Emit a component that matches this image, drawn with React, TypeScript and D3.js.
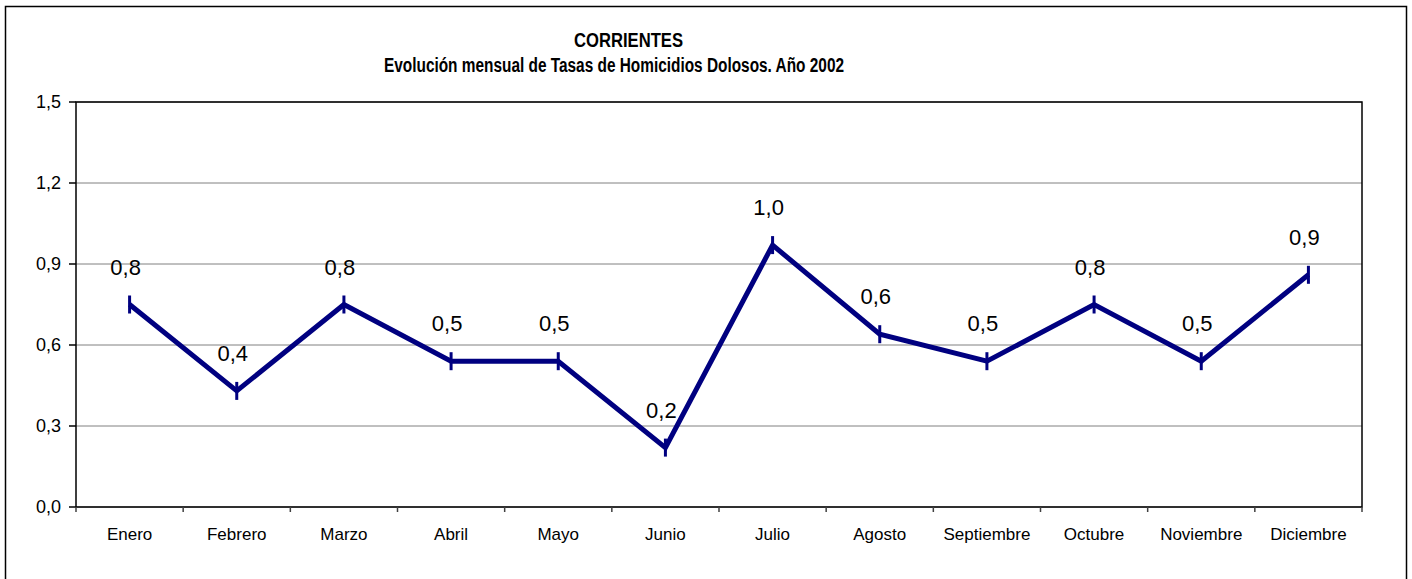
import React, { useEffect, useRef } from 'react';
import * as d3 from 'd3';

const months = ['Enero', 'Febrero', 'Marzo', 'Abril', 'Mayo', 'Junio', 'Julio', 'Agosto', 'Septiembre', 'Octubre', 'Noviembre', 'Diciembre'];
const rates = [0.75, 0.43, 0.75, 0.54, 0.54, 0.22, 0.97, 0.64, 0.54, 0.75, 0.54, 0.86];
const yTicks = [0, 0.3, 0.6, 0.9, 1.2, 1.5];
const titleLines = ['CORRIENTES', 'Evolución mensual de Tasas de Homicidios Dolosos. Año 2002'];

const fmt = (v: number, d: number) => v.toFixed(d).replace('.', ',');

const App: React.FC = () => {
	const svgRef = useRef<SVGSVGElement | null>(null);

	useEffect(() => {
		if (svgRef.current == null) return;

		const width = 1412;
		const height = 579;
		const margin = { top: 102, right: 50, bottom: 72, left: 76 };
		const innerWidth = 1362 - margin.left;
		const innerHeight = 507 - margin.top;

		const svg = d3.select(svgRef.current);
		svg.selectAll('*').remove();
		svg.attr('width', width).attr('height', height);

		svg.append('rect')
			.attr('x', 5.5).attr('y', 6.5)
			.attr('width', 1401).attr('height', 600)
			.attr('fill', 'white').attr('stroke', 'black').attr('stroke-width', 1.5);

		const font = 'Liberation Sans, Arial, sans-serif';

		// title is drawn in a condensed bold face in the original
		svg.append('text')
			.attr('x', 574).attr('y', 47)
			.attr('font-family', font).attr('font-weight', 'bold').attr('font-size', 20)
			.attr('textLength', 109).attr('lengthAdjust', 'spacingAndGlyphs')
			.text(titleLines[0]);
		svg.append('text')
			.attr('x', 384).attr('y', 72)
			.attr('font-family', font).attr('font-weight', 'bold').attr('font-size', 20)
			.attr('textLength', 460).attr('lengthAdjust', 'spacingAndGlyphs')
			.text(titleLines[1]);

		const x = d3.scaleBand<string>().domain(months).range([0, innerWidth]);
		const y = d3.scaleLinear().domain([0, 1.5]).range([innerHeight, 0]);

		const g = svg.append('g').attr('transform', `translate(${margin.left},${margin.top})`);

		// gridlines
		g.selectAll('line.grid')
			.data(yTicks)
			.join('line')
			.attr('class', 'grid')
			.attr('x1', 0).attr('x2', innerWidth)
			.attr('y1', d => y(d)).attr('y2', d => y(d))
			.attr('stroke', '#808080').attr('stroke-width', 1);

		// plot frame
		g.append('rect')
			.attr('x', 0).attr('y', 0)
			.attr('width', innerWidth).attr('height', innerHeight)
			.attr('fill', 'none').attr('stroke', 'black').attr('stroke-width', 1.5);

		// y axis ticks + labels
		g.selectAll('line.ytick')
			.data(yTicks)
			.join('line')
			.attr('class', 'ytick')
			.attr('x1', -7).attr('x2', 0)
			.attr('y1', d => y(d)).attr('y2', d => y(d))
			.attr('stroke', 'black').attr('stroke-width', 1.5);
		g.selectAll('text.ylab')
			.data(yTicks)
			.join('text')
			.attr('class', 'ylab')
			.attr('x', -15).attr('y', d => y(d) + 6)
			.attr('text-anchor', 'end')
			.attr('font-family', font).attr('font-size', 18)
			.text(d => fmt(d, 1));

		// x axis ticks + labels
		const bounds = months.map(m => x(m) as number).concat([innerWidth]);
		g.selectAll('line.xtick')
			.data(bounds)
			.join('line')
			.attr('class', 'xtick')
			.attr('x1', d => d).attr('x2', d => d)
			.attr('y1', innerHeight).attr('y2', innerHeight + 5)
			.attr('stroke', '#404040').attr('stroke-width', 1.5);
		g.selectAll('text.xlab')
			.data(months)
			.join('text')
			.attr('class', 'xlab')
			.attr('x', d => (x(d) as number) + x.bandwidth() / 2)
			.attr('y', innerHeight + 33)
			.attr('text-anchor', 'middle')
			.attr('font-family', font).attr('font-size', 17)
			.text(d => d);

		const pts = months.map((m, i) => ({ m, v: rates[i] }));
		const line = d3.line<{ m: string, v: number }>()
			.x(d => (x(d.m) as number) + x.bandwidth() / 2)
			.y(d => y(d.v));

		g.append('path')
			.datum(pts)
			.attr('fill', 'none')
			.attr('stroke', '#000080')
			.attr('stroke-width', 5)
			.attr('stroke-linejoin', 'miter')
			.attr('d', line);

		g.selectAll('line.marker')
			.data(pts)
			.join('line')
			.attr('class', 'marker')
			.attr('x1', d => (x(d.m) as number) + x.bandwidth() / 2)
			.attr('x2', d => (x(d.m) as number) + x.bandwidth() / 2)
			.attr('y1', d => y(d.v) - 9).attr('y2', d => y(d.v) + 9)
			.attr('stroke', '#000080').attr('stroke-width', 3);

		g.selectAll('text.vlab')
			.data(pts)
			.join('text')
			.attr('class', 'vlab')
			.attr('x', d => (x(d.m) as number) + x.bandwidth() / 2 - 4)
			.attr('y', d => y(d.v) - 30)
			.attr('text-anchor', 'middle')
			.attr('font-family', font).attr('font-size', 22)
			.text(d => fmt(d.v, 1));
	}, []);

	return (
		<svg ref={svgRef} style={{ position: 'absolute', left: 0, top: 0 }}></svg>
	);
};

export default App;
